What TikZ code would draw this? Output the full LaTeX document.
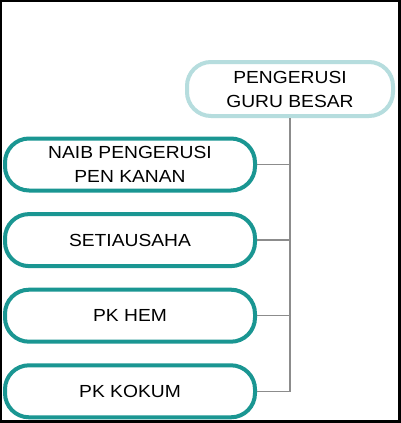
\documentclass[tikz,border=0pt]{standalone}
\usepackage{fontspec}
\setmainfont{Liberation Sans}[FakeStretch=1.1]
\usepackage{tikz}
\usetikzlibrary{calc}
\definecolor{tealline}{RGB}{26,150,146}
\definecolor{paleline}{RGB}{182,221,222}
\definecolor{linkgray}{RGB}{140,140,140}

\begin{document}
\begin{tikzpicture}[x=1pt,y=-1pt,
  box/.style={
    align=center,
    rectangle,
    rounded corners=24pt,
    draw=tealline,
    line width=4pt,
    fill=white,
    font=\fontsize{17.5}{24}\selectfont,
    minimum width=250pt,
    minimum height=52pt,
    inner sep=0pt
  },
  headbox/.style={
    box,
    draw=paleline,
    minimum width=206pt,
    minimum height=54pt
  },
  link/.style={
    draw=linkgray,
    line width=1.4pt
  }
  ]

  \pgfmathsetmacro{\xl}{130}
  \pgfmathsetmacro{\dy}{75.6}

  \useasboundingbox (0,0) rectangle (401,423);
  \fill [black] (0,0) rectangle (401,423);
  \fill [white] (1.5,1.5) rectangle (398,420);

  \node [headbox] (head) at (290,89) {PENGERUSI\\GURU BESAR};

  \node [box] (naib) at (\xl,164.5) {NAIB PENGERUSI\\PEN KANAN};
  \node [box] (setia) at (\xl,164.5+\dy) {SETIAUSAHA};
  \node [box] (hem) at (\xl,164.5+2*\dy) {PK HEM};
  \node [box] (kokum) at (\xl,164.5+3*\dy) {PK KOKUM};

  \draw [link] (head.south) |- (kokum.east);
  \draw [link] (naib.east) -- (naib.east -| head.south);
  \draw [link] (setia.east) -- (setia.east -| head.south);
  \draw [link] (hem.east) -- (hem.east -| head.south);

  \end{tikzpicture}
\end{document}
